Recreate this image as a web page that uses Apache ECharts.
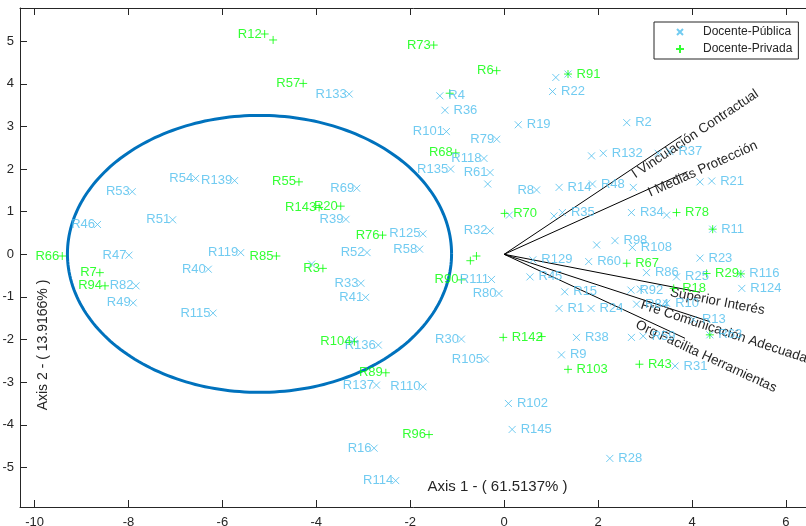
<!DOCTYPE html>
<html><head><meta charset="utf-8">
<script src="https://cdn.jsdelivr.net/npm/echarts@6/dist/echarts.min.js"></script>
<style>html,body{margin:0;padding:0;background:#fff}#c{width:806px;height:526px}</style>
</head><body><div id="c"></div>
<script>
// ---- Docente-Pública (x markers) ----
const pubNames = ['R133','R4','R36','R101','R19','','','R22','R2','R54','R139','R53','R46','R51','R47','R119','R79','R118','R135','R61','','R8','R69','R39','R125','R58','R52','','R32','','R132','','R37','','R21','R14','R48','','','R35','R34','','R11','','R98','R108','R23','R129','R60','R82','R49','R40','R115','','R33','R41','R111','R80','','R136','R137','R110','R30','R105','R45','R86','R25','R116','R124','R15','R1','R24','R92','','R84','R10','R13','R63','','R59','R38','R9','R31','R102','R145','R16','R114','R28'];
const pubX = [-3.30,-1.37,-1.26,-1.23,0.30,1.10,1.36,1.03,2.61,-6.57,-5.74,-7.92,-8.66,-7.06,-7.99,-5.61,-0.16,-0.43,-1.14,-0.30,-0.35,0.69,-3.14,-3.37,-1.73,-1.80,-2.92,0.11,-0.30,1.86,2.11,3.28,3.53,4.17,4.42,1.17,1.88,2.75,1.06,1.24,2.71,3.46,4.44,1.97,2.36,2.73,4.17,0.61,1.80,-7.84,-7.90,-6.30,-6.20,-4.10,-3.05,-2.95,-0.27,-0.11,-3.20,-2.68,-2.72,-1.73,-0.91,-0.40,0.55,3.03,3.67,5.04,5.06,1.29,1.17,1.85,2.70,2.90,2.82,3.46,4.03,4.38,2.71,2.96,1.54,1.22,3.64,0.09,0.17,-2.77,-2.31,2.25];
const pubY = [3.76,3.72,3.38,2.88,3.04,4.15,4.23,3.82,3.09,1.78,1.73,1.47,0.70,0.81,-0.02,0.04,2.70,2.25,2.00,1.92,1.65,1.51,1.55,0.82,0.48,0.12,0.04,0.92,0.55,2.31,2.37,2.37,2.41,1.70,1.72,1.57,1.65,1.57,0.90,0.98,0.98,0.92,0.59,0.22,0.32,0.16,-0.09,-0.13,-0.17,-0.74,-1.14,-0.35,-1.38,-0.23,-0.68,-1.01,-0.59,-0.92,-2.01,-2.13,-3.07,-3.11,-1.99,-2.46,-0.53,-0.43,-0.53,-0.46,-0.80,-0.88,-1.27,-1.27,-0.84,-0.82,-1.17,-1.15,-1.53,-1.89,-1.95,-1.92,-1.95,-2.36,-2.62,-3.50,-4.11,-4.55,-5.31,-4.79];
const pubSide = ['L','R','R','L','R','-','-','R','R','L','L','L','L','L','L','L','L','L','L','L','-','L','L','L','L','L','L','-','L','-','R','-','R','-','R','R','R','-','-','R','R','-','R','-','R','R','R','R','R','L','L','L','L','-','L','L','L','L','-','L','L','L','L','L','R','R','R','R','R','R','R','R','R','-','R','R','R','R','-','R','R','R','R','R','R','L','L','R'];

// ---- Docente-Privada (+ markers) ----
const privNames = ['R12','','R73','R6','R57','','R91','R66','R85','R68','R55','R143','R20','R76','R70','','','R78','','R67','R7','R94','R3','R90','R104','R89','R142','','R29','','','R18','R103','R43','R96'];
const privX = [-5.10,-4.92,-1.50,-0.16,-4.28,-1.16,1.36,-9.41,-4.85,-1.03,-4.37,-3.94,-3.48,-2.59,0.01,-0.59,-0.72,3.67,4.44,2.61,-8.61,-8.50,-3.86,-0.91,-3.19,-2.52,-0.02,0.80,4.31,5.04,4.38,3.61,1.36,2.88,-1.60];
const privY = [5.17,5.03,4.91,4.31,4.01,3.78,4.23,-0.04,-0.04,2.38,1.70,1.10,1.13,0.45,0.96,-0.04,-0.15,0.98,0.59,-0.21,-0.43,-0.74,-0.33,-0.60,-2.05,-2.78,-1.95,-1.93,-0.45,-0.46,-1.89,-0.80,-2.70,-2.58,-4.23];
const privSide = ['L','-','L','L','L','-','R','L','L','L','L','L','L','L','R','-','-','R','-','R','L','L','L','L','L','L','R','-','R','-','-','R','R','R','L'];

// ---- Biplot variable vectors ----
const vecNames = ['I Vinculación Contractual','I Medias Protección','Superior Interés','Fre Comunicación Adecuada','Org Facilita Herramientas'];
const vecX = [3.78,3.90,4.17,4.38,3.85];
const vecY = [2.78,1.94,-0.89,-1.58,-1.97];
const vecLabelX = [4.07,4.23,4.54,4.68,4.30];
const vecLabelY = [2.82,2.00,-1.11,-1.82,-2.40];

// ---- Ellipse ----
const ellipseCenter = [-5.21, 0.01];
const ellipseRadii = [4.09, 3.25];

// ---- Axes ----
const xTicks = [-10,-8,-6,-4,-2,0,2,4,6];
const yTicks = [-5,-4,-3,-2,-1,0,1,2,3,4,5];
const xRange = [-10.31, 6.47];
const yRange = [-5.93, 5.78];

const FONT = 'Liberation Sans, Arial, Helvetica, sans-serif';
const BLUE = '#4DBEEE';
const GREEN = '#00ff00';
const AX = '#262626';
const CROSS = 'path://M0,0L10,10M10,0L0,10';
const PLUS = 'path://M5,0L5,10M0,5L10,5';

function buildPoints(names, xs, ys, sides, rdist) {
  return names.map((n, i) => ({
    name: n,
    value: [xs[i], ys[i]],
    label: n ? { show: true, position: sides[i] === 'L' ? 'left' : 'right', distance: sides[i] === 'L' ? -1.5 : rdist } : { show: false }
  }));
}

const chart = echarts.init(document.getElementById('c'), null, { renderer: 'canvas' });

const axisCommon = {
  type: 'value', min: xRange[0], max: xRange[1],
  axisLine: { show: true, onZero: false, lineStyle: { color: AX, width: 1 } },
  axisTick: { show: true, inside: true, length: 7, customValues: xTicks, lineStyle: { color: AX } },
  splitLine: { show: false }
};

chart.setOption({
  backgroundColor: '#fff',
  animation: false,
  grid: { left: 20, top: 8, width: 788, height: 499, containLabel: false, outerBoundsMode: 'none' },
  xAxis: [
    Object.assign({}, axisCommon, {
      position: 'bottom',
      axisLabel: { show: true, customValues: xTicks, margin: 9, color: AX, fontSize: 13, fontFamily: FONT }
    }),
    Object.assign({}, axisCommon, {
      position: 'top',
      axisLabel: { show: false }
    })
  ],
  yAxis: {
    type: 'value', min: yRange[0], max: yRange[1], position: 'left',
    axisLine: { show: true, onZero: false, lineStyle: { color: AX, width: 1 } },
    axisTick: { show: true, inside: true, length: 7, customValues: yTicks, lineStyle: { color: AX } },
    axisLabel: { show: true, customValues: yTicks, margin: 6, color: AX, fontSize: 13, fontFamily: FONT },
    splitLine: { show: false }
  },
  legend: {
    data: [
      { name: 'Docente-Pública', icon: 'path://M0,0M25,12M4,3L10,9M10,3L4,9' },
      { name: 'Docente-Privada', icon: 'path://M0,0M25,12M7,2L7,10M3,6L11,6' }
    ],
    orient: 'vertical', left: 654, top: 22,
    padding: [3, 6, 3, 18], itemWidth: 25, itemHeight: 12, itemGap: 3,
    borderColor: AX, borderWidth: 1, backgroundColor: '#fff', borderRadius: 0,
    selectedMode: false,
    textStyle: { fontSize: 12, color: AX, fontFamily: FONT }
  },
  series: [
    {
      name: 'Docente-Pública', type: 'scatter', xAxisIndex: 0, yAxisIndex: 0,
      symbol: CROSS, symbolSize: 7,
      itemStyle: { color: 'rgba(0,0,0,0)', borderColor: BLUE, borderWidth: 1 },
      label: { formatter: '{b}', color: BLUE, fontSize: 13, fontFamily: FONT },
      emphasis: { disabled: true },
      data: buildPoints(pubNames, pubX, pubY, pubSide, 4.5)
    },
    {
      name: 'Docente-Privada', type: 'scatter', xAxisIndex: 0, yAxisIndex: 0,
      symbol: PLUS, symbolSize: 8,
      itemStyle: { color: 'rgba(0,0,0,0)', borderColor: GREEN, borderWidth: 1 },
      label: { formatter: '{b}', color: GREEN, fontSize: 13, fontFamily: FONT },
      emphasis: { disabled: true },
      data: buildPoints(privNames, privX, privY, privSide, 4)
    },
    {
      name: 'vectors', type: 'custom', xAxisIndex: 0, yAxisIndex: 0, silent: true,
      data: vecNames.map((n, i) => ({ name: n, value: [vecX[i], vecY[i], vecLabelX[i], vecLabelY[i]] })),
      renderItem: function (params, api) {
        const p0 = api.coord([0, 0]);
        const p1 = api.coord([api.value(0), api.value(1)]);
        const pl = api.coord([api.value(2), api.value(3)]);
        const ang = Math.atan2(-(p1[1] - p0[1]), p1[0] - p0[0]);
        return {
          type: 'group',
          children: [
            { type: 'line', shape: { x1: p0[0], y1: p0[1], x2: p1[0], y2: p1[1] }, style: { stroke: '#000', lineWidth: 1 } },
            { type: 'text', x: pl[0], y: pl[1], rotation: ang,
              style: { text: vecNames[params.dataIndex], fill: AX, fontSize: 13.5, fontFamily: FONT, align: 'center', verticalAlign: 'middle' } }
          ]
        };
      }
    },
    {
      name: 'ellipse', type: 'custom', xAxisIndex: 0, yAxisIndex: 0, silent: true,
      data: [[ellipseCenter[0], ellipseCenter[1], ellipseRadii[0], ellipseRadii[1]]],
      renderItem: function (params, api) {
        const cx = api.value(0), cy = api.value(1), a = api.value(2), b = api.value(3);
        const pts = [];
        for (let i = 0; i <= 240; i++) {
          const t = i / 240 * 2 * Math.PI;
          pts.push(api.coord([cx + a * Math.cos(t), cy + b * Math.sin(t)]));
        }
        return { type: 'polyline', shape: { points: pts }, style: { stroke: '#0072BD', lineWidth: 3, fill: null } };
      }
    }
  ],
  graphic: [
    { type: 'text', x: 497.5, y: 487, style: { text: 'Axis 1 - ( 61.5137% )', fill: AX, fontSize: 15, fontFamily: FONT, align: 'center', verticalAlign: 'middle' } },
    { type: 'text', x: 43, y: 345, rotation: Math.PI / 2, style: { text: 'Axis 2 - ( 13.9166% )', fill: AX, fontSize: 14, fontFamily: FONT, align: 'center', verticalAlign: 'middle' } }
  ]
});
</script>
</body></html>
